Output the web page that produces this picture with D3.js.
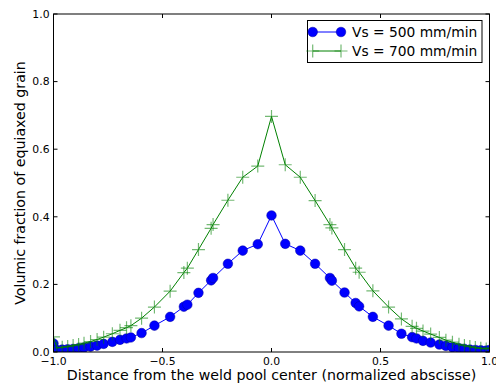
<!DOCTYPE html>
<html lang="en">
<head>
    <meta charset="UTF-8">
    <title>Volumic fraction of equiaxed grain</title>
    <script src="https://d3js.org/d3.v7.min.js"></script>
    <style>
        body {
            margin: 0;
            background: #ffffff;
            font-family: "DejaVu Sans", sans-serif;
        }
        svg text {
            fill: #000;
        }
    </style>
</head>
<body>
<script>
    // positions along the normalized abscissa (shared by both runs)
    const xPos = [-1.0, -0.985, -0.96, -0.935, -0.91, -0.885, -0.86, -0.83, -0.80, -0.77,
        -0.73, -0.695, -0.665, -0.645, -0.596, -0.537, -0.465, -0.402, -0.386, -0.335,
        -0.277, -0.268, -0.2, -0.132, -0.063, 0, 0.063, 0.132, 0.2, 0.268,
        0.277, 0.335, 0.386, 0.402, 0.465, 0.537, 0.596, 0.645, 0.665, 0.695,
        0.73, 0.77, 0.80, 0.83, 0.86, 0.885, 0.91, 0.935, 0.96, 0.985, 1.0];

    const vs500 = [0.025, 0.006, 0.007, 0.008, 0.009, 0.011, 0.013, 0.016, 0.019, 0.024,
        0.030, 0.036, 0.040, 0.043, 0.056, 0.078, 0.104, 0.134, 0.140, 0.175,
        0.212, 0.219, 0.261, 0.300, 0.319, 0.404, 0.320, 0.300, 0.261, 0.219,
        0.211, 0.176, 0.145, 0.135, 0.104, 0.078, 0.054, 0.044, 0.040, 0.033,
        0.028, 0.022, 0.018, 0.014, 0.011, 0.009, 0.007, 0.006, 0.005, 0.004, 0.006];

    const vs700 = [0.045, 0.012, 0.014, 0.016, 0.019, 0.022, 0.026, 0.031, 0.037, 0.044,
        0.054, 0.064, 0.072, 0.078, 0.100, 0.133, 0.180, 0.235, 0.248, 0.303,
        0.366, 0.377, 0.449, 0.517, 0.550, 0.697, 0.554, 0.517, 0.448, 0.377,
        0.367, 0.303, 0.248, 0.236, 0.181, 0.133, 0.098, 0.076, 0.070, 0.062,
        0.053, 0.043, 0.035, 0.029, 0.023, 0.019, 0.016, 0.013, 0.011, 0.009, 0.012];

    const xTicks = [-1.0, -0.5, 0.0, 0.5, 1.0];
    const yTicks = [0.0, 0.2, 0.4, 0.6, 0.8, 1.0];
    const seriesNames = ["Vs = 500 mm/min", "Vs = 700 mm/min"];

    const width = 496, height = 385;
    const margin = {left: 53.5, right: 6.5, top: 14, bottom: 33};

    const svg = d3.select("body").append("svg")
        .attr("width", width)
        .attr("height", height);

    const x = d3.scaleLinear().domain([-1, 1]).range([margin.left, width - margin.right]);
    const y = d3.scaleLinear().domain([0, 1]).range([height - margin.bottom, margin.top]);
    const fmt = d3.format(".1f");

    const plot = svg.append("g");

    // clip to the axes box
    svg.append("clipPath").attr("id", "clip")
        .append("rect")
        .attr("x", x(-1)).attr("y", y(1))
        .attr("width", x(1) - x(-1)).attr("height", y(0) - y(1));

    const data500 = xPos.map((d, i) => [d, vs500[i]]);
    const data700 = xPos.map((d, i) => [d, vs700[i]]);
    const line = d3.line().x(d => x(d[0])).y(d => y(d[1]));

    const g = plot.append("g").attr("clip-path", "url(#clip)");

    // blue run
    g.append("path")
        .datum(data500)
        .attr("d", line)
        .attr("fill", "none")
        .attr("stroke", "#0000ff")
        .attr("stroke-width", 1);
    g.selectAll(".dot")
        .data(data500)
        .enter().append("circle")
        .attr("class", "dot")
        .attr("cx", d => x(d[0]))
        .attr("cy", d => y(d[1]))
        .attr("r", 4.8)
        .attr("fill", "#0000ff")
        .attr("stroke", "#0000a0")
        .attr("stroke-width", 0.5);

    // green run
    g.append("path")
        .datum(data700)
        .attr("d", line)
        .attr("fill", "none")
        .attr("stroke", "#008000")
        .attr("stroke-width", 1);
    const plus = s => `M${-s},0H${s}M0,${-s}V${s}`;
    g.selectAll(".plus")
        .data(data700)
        .enter().append("path")
        .attr("class", "plus")
        .attr("transform", d => `translate(${x(d[0])},${y(d[1])})`)
        .attr("d", plus(6.5))
        .attr("fill", "none")
        .attr("stroke", "#008000")
        .attr("stroke-opacity", 0.55)
        .attr("stroke-width", 1.2);

    // axes frame and inward ticks on all four sides
    const frame = svg.append("g").attr("stroke", "#000").attr("stroke-width", 1);
    frame.append("rect")
        .attr("x", x(-1)).attr("y", y(1))
        .attr("width", x(1) - x(-1)).attr("height", y(0) - y(1))
        .attr("fill", "none");
    xTicks.forEach(t => {
        frame.append("line").attr("x1", x(t)).attr("x2", x(t)).attr("y1", y(0)).attr("y2", y(0) - 4);
        frame.append("line").attr("x1", x(t)).attr("x2", x(t)).attr("y1", y(1)).attr("y2", y(1) + 4);
    });
    yTicks.forEach(t => {
        frame.append("line").attr("x1", x(-1)).attr("x2", x(-1) + 4).attr("y1", y(t)).attr("y2", y(t));
        frame.append("line").attr("x1", x(1)).attr("x2", x(1) - 4).attr("y1", y(t)).attr("y2", y(t));
    });

    svg.append("g").selectAll("text")
        .data(xTicks)
        .enter().append("text")
        .attr("x", d => x(d))
        .attr("y", y(0) + 12.5)
        .attr("text-anchor", "middle")
        .style("font-size", "10.8px")
        .text(d => fmt(d));

    svg.append("g").selectAll("text")
        .data(yTicks)
        .enter().append("text")
        .attr("x", x(-1) - 4)
        .attr("y", d => y(d))
        .attr("dy", "0.35em")
        .attr("text-anchor", "end")
        .style("font-size", "10.8px")
        .text(d => fmt(d));

    // axis titles
    svg.append("text")
        .attr("x", (x(-1) + x(1)) / 2)
        .attr("y", 379.5)
        .attr("text-anchor", "middle")
        .style("font-size", "14.2px")
        .text("Distance from the weld pool center (normalized abscisse)");

    svg.append("text")
        .attr("transform", `translate(25,${(y(0) + y(1)) / 2}) rotate(-90)`)
        .attr("text-anchor", "middle")
        .style("font-size", "14.2px")
        .text("Volumic fraction of equiaxed grain");

    // legend
    const legend = svg.append("g");
    legend.append("rect")
        .attr("x", 307.5).attr("y", 20.5)
        .attr("width", 174.5).attr("height", 42)
        .attr("fill", "#fff")
        .attr("stroke", "#000")
        .attr("stroke-width", 1);

    const rows = [32, 51];
    const l0 = 312.7, l1 = 341;
    legend.append("line")
        .attr("x1", l0).attr("x2", l1).attr("y1", rows[0]).attr("y2", rows[0])
        .attr("stroke", "#0000ff");
    [l0, l1].forEach(px => legend.append("circle")
        .attr("cx", px).attr("cy", rows[0]).attr("r", 4.8)
        .attr("fill", "#0000ff").attr("stroke", "#0000a0").attr("stroke-width", 0.5));
    legend.append("line")
        .attr("x1", l0).attr("x2", l1).attr("y1", rows[1]).attr("y2", rows[1])
        .attr("stroke", "#008000");
    [l0, l1].forEach(px => legend.append("path")
        .attr("transform", `translate(${px},${rows[1]})`)
        .attr("d", plus(6.5))
        .attr("fill", "none")
        .attr("stroke", "#008000")
        .attr("stroke-opacity", 0.55)
        .attr("stroke-width", 1.2));

    legend.selectAll("text.lab")
        .data(seriesNames)
        .enter().append("text")
        .attr("class", "lab")
        .attr("x", 352)
        .attr("y", (d, i) => rows[i])
        .attr("dy", "0.35em")
        .style("font-size", "13.8px")
        .text(d => d);
</script>
</body>
</html>
